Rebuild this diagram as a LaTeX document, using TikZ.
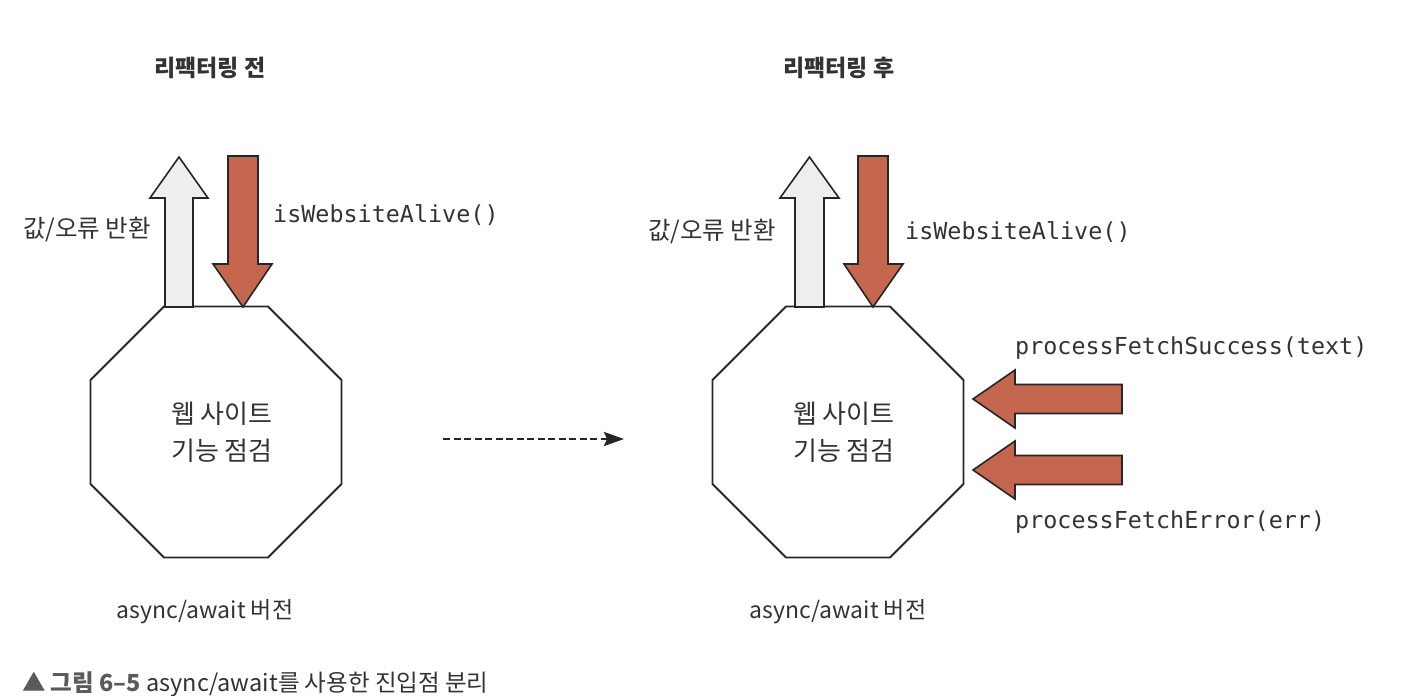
\documentclass[tikz,border=0pt]{standalone}
\usepackage{fontspec}
\setmainfont{Noto Sans CJK KR}
\newfontfamily\codefont{DejaVu Sans Mono}
\usetikzlibrary{shapes.geometric,arrows.meta}
\definecolor{txt}{HTML}{333333}
\definecolor{redfill}{HTML}{C4674E}
\definecolor{whitefill}{HTML}{EEEEEE}
\definecolor{capgray}{HTML}{5A5A5A}
\tikzset{
  title/.style={text=txt,font=\fontsize{23pt}{27pt}\selectfont\bfseries,inner sep=0pt},
  lbl/.style={text=txt,font=\fontsize{24.5pt}{29pt}\selectfont,inner sep=0pt},
  asy/.style={text=txt,font=\fontsize{23pt}{28pt}\selectfont,inner sep=0pt},
  code/.style={text=txt,font=\codefont\fontsize{23.4pt}{28pt}\selectfont,inner sep=0pt},
  oct/.style={regular polygon,regular polygon sides=8,draw=black!85,line width=1.8pt,
    minimum size=271.7pt,inner sep=0pt,outer sep=0pt,align=center,text=txt,
    font=\fontsize{26pt}{37pt}\selectfont},
  redarrow/.style={fill=redfill,draw=black!85,line width=1.6pt,line join=miter},
  whitearrow/.style={fill=whitefill,draw=black!85,line width=1.6pt,line join=miter},
  dasharrow/.style={draw=black!85,line width=2.4pt,dash pattern=on 7pt off 3.5pt,
    -{Stealth[length=20pt,width=14pt,inset=3pt]}},
}
\begin{document}
\begin{tikzpicture}[x=1pt,y=-1pt]
\useasboundingbox (0,0) rectangle (1428,696);
% titles
\node[title] (t1) at (210,68) {리팩터링 전};
\node[title] (t2) at (839,68) {리팩터링 후};
% octagons
\node[oct] (o1) at (216,432) {\hspace*{12pt}웹 사이트\\\hspace*{12pt}기능 점검};
\node[oct] (o2) at (838,432) {\hspace*{12pt}웹 사이트\\\hspace*{12pt}기능 점검};
% left arrows
\draw[whitearrow] (165,307) -- (165,198) -- (150,198) -- (179,157) -- (208,198) -- (193,198) -- (193,307) -- cycle;
\draw[redarrow] (228,156) -- (258,156) -- (258,264) -- (272,264) -- (243,307) -- (213,264) -- (228,264) -- cycle;
% right arrows
\draw[whitearrow] (795,307) -- (795,198) -- (780,198) -- (809.5,157) -- (839,198) -- (824,198) -- (824,307) -- cycle;
\draw[redarrow] (858,156) -- (888,156) -- (888,264) -- (903,264) -- (873,307) -- (844,264) -- (858,264) -- cycle;
\draw[redarrow] (1122,384.5) -- (1122,413.5) -- (1015,413.5) -- (1015,428) -- (973,399) -- (1015,370) -- (1015,384.5) -- cycle;
\draw[redarrow] (1122,455.5) -- (1122,484.5) -- (1015,484.5) -- (1015,499) -- (973,470) -- (1015,441) -- (1015,455.5) -- cycle;
% labels
\node[lbl,anchor=west] (l1) at (23,230) {값/오류 반환};
\node[code,anchor=west] (c1) at (273,215) {isWebsiteAlive()};
\node[lbl,anchor=west] (l2) at (648,232) {값/오류 반환};
\node[code,anchor=west] (c2) at (905,232) {isWebsiteAlive()};
\node[code,anchor=west] (c3) at (1015,348) {processFetchSuccess(text)};
\node[code,anchor=west] (c4) at (1015,522) {processFetchError(err)};
\node[asy] (v1) at (205,612) {async/await 버전};
\node[asy] (v2) at (838,612) {async/await 버전};
% dashed transition arrow
\coordinate (d1) at (443,439);
\coordinate (d2) at (624,439);
\draw[dasharrow] (d1) -- (d2);
% caption
\node[anchor=west,inner sep=0pt,font=\fontsize{23.5pt}{27pt}\selectfont] (cap) at (22,684)
  {\textcolor{capgray}{▲ \textbf{그림 6–5}} \textcolor{txt}{async/await를 사용한 진입점 분리}};
\end{tikzpicture}
\end{document}
